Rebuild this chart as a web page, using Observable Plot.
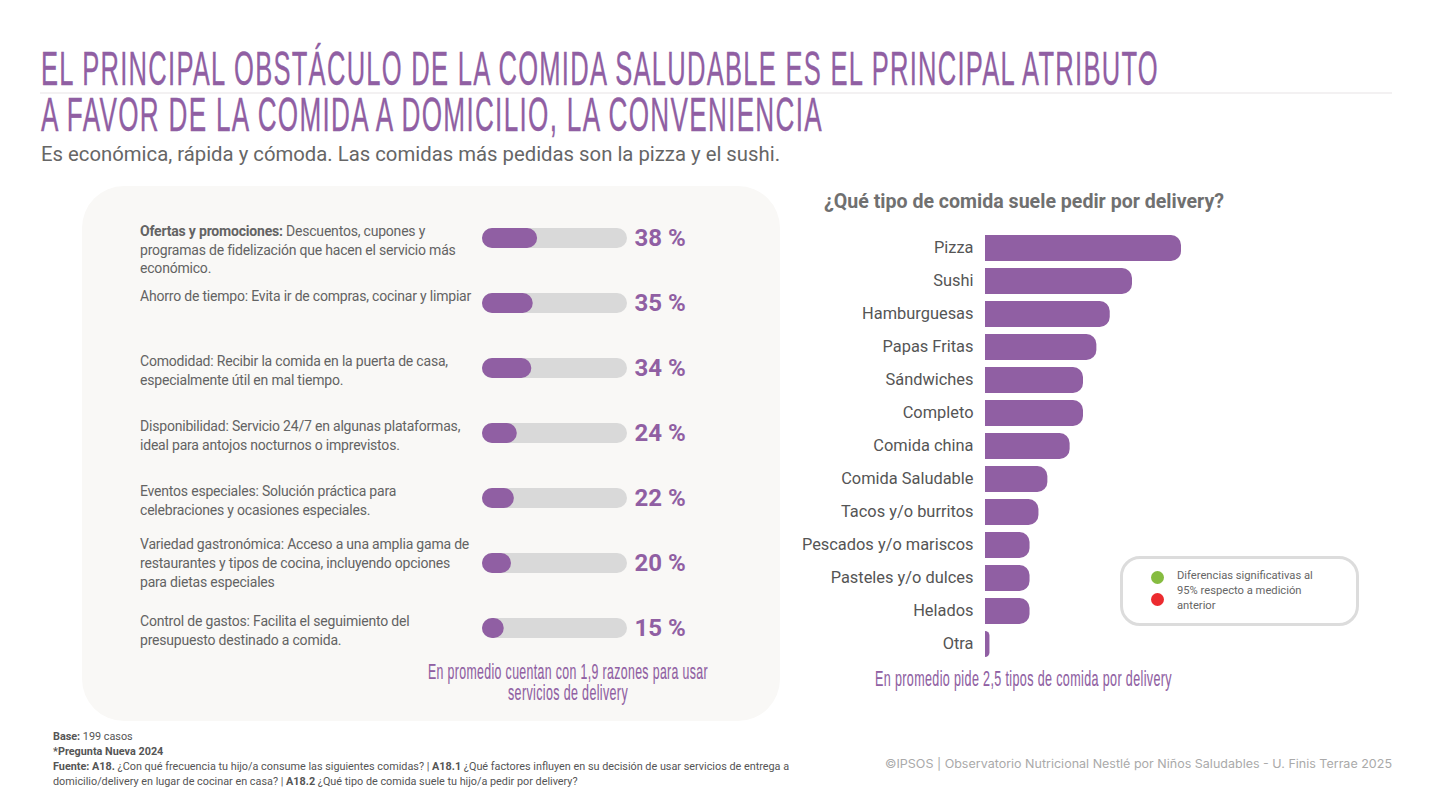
<!DOCTYPE html>
<html lang="es">
<head>
<meta charset="utf-8">
<script src="https://cdn.jsdelivr.net/npm/d3@7"></script>
<script src="https://cdn.jsdelivr.net/npm/@observablehq/plot@0.6"></script>
<style>
html,body{margin:0;padding:0;background:#fff;}
#page{position:relative;width:1440px;height:810px;overflow:hidden;font-family:Roboto,sans-serif;background:#fff;}
#page>div,#page>figure,#page>svg{position:absolute;margin:0;}
.fit{white-space:nowrap;transform-origin:0 50%;}
.display{font-family:"Liberation Sans Narrow","Liberation Sans",sans-serif;color:#905fa3;}
.title{font-size:49px;line-height:48px;letter-spacing:.05em;-webkit-text-stroke:.35px #905fa3;}
.avg{font-size:21.5px;line-height:21px;letter-spacing:.03em;-webkit-text-stroke:.15px #905fa3;}
#panel{left:82px;top:186px;width:698px;height:535px;border-radius:42px;background:#f9f8f6;}
#rule{left:40px;top:92px;width:1352px;height:2px;background:#f3f1f2;}
#subtitle{left:41px;top:142px;font-size:20px;line-height:24px;color:#666;}
#rightTitle{left:824px;top:188px;font-size:20px;line-height:26px;font-weight:700;color:#707070;}
#legend{left:1120px;top:556px;width:233px;height:64px;border:3px solid #dcdcdc;border-radius:20px;background:#fff;}
.dot{width:13px;height:13px;border-radius:50%;}
#legendText{left:1177px;top:568px;font-size:11.2px;line-height:15px;color:#666;white-space:nowrap;}
#foot{left:53px;top:729px;font-size:10.83px;line-height:15px;color:#555;white-space:nowrap;}
#foot b{font-weight:700;}
#credit{left:885px;top:756px;font-family:Inter,sans-serif;font-size:11.5px;line-height:16px;color:#aaa;}
</style>
</head>
<body>
<div id="page">
  <div id="panel"></div>
  <div id="rule"></div>
  <div class="fit display title" data-w="1118" style="left:41px;top:44px">EL PRINCIPAL OBSTÁCULO DE LA COMIDA SALUDABLE ES EL PRINCIPAL ATRIBUTO</div>
  <div class="fit display title" data-w="782" style="left:41px;top:90px">A FAVOR DE LA COMIDA A DOMICILIO, LA CONVENIENCIA</div>
  <div id="subtitle" class="fit" data-w="739">Es económica, rápida y cómoda. Las comidas más pedidas son la pizza y el sushi.</div>
  <div id="rightTitle" class="fit" data-w="400">¿Qué tipo de comida suele pedir por delivery?</div>
  <div id="leftChart"></div>
  <div id="rightChart"></div>
  <div class="fit display avg" data-w="280" style="left:428px;top:662px">En promedio cuentan con 1,9 razones para usar</div>
  <div class="fit display avg" data-w="120" style="left:508px;top:683px">servicios de delivery</div>
  <div class="fit display avg" data-w="297" style="left:875px;top:669px">En promedio pide 2,5 tipos de comida por delivery</div>
  <div id="legend"></div>
  <div class="dot" style="left:1151px;top:571px;background:#86bc40"></div>
  <div class="dot" style="left:1151px;top:593px;background:#ec2b2f"></div>
  <div id="legendText">Diferencias significativas al<br>95% respecto a medición<br>anterior</div>
  <div id="foot"><b>Base:</b> 199 casos<br><b>*Pregunta Nueva 2024</b><br><b>Fuente: A18.</b> ¿Con qué frecuencia tu hijo/a consume las siguientes comidas? | <b>A18.1</b> ¿Qué factores influyen en su decisión de usar servicios de entrega a<br>domicilio/delivery en lugar de cocinar en casa? | <b>A18.2</b> ¿Qué tipo de comida suele tu hijo/a pedir por delivery?</div>
  <div id="credit" class="fit" data-w="507">©IPSOS | Observatorio Nutricional Nestlé por Niños Saludables - U. Finis Terrae 2025</div>
</div>
<script>
// Razones para usar delivery (%)
const reasonNames = ["Ofertas y promociones","Ahorro de tiempo","Comodidad","Disponibilidad","Eventos especiales","Variedad gastronómica","Control de gastos"];
const reasonValues = [38,35,34,24,22,20,15];
const reasonTexts = [
  "Ofertas y promociones: Descuentos, cupones y\nprogramas de fidelización que hacen el servicio más\neconómico.",
  "Ahorro de tiempo: Evita ir de compras, cocinar y limpiar",
  "Comodidad: Recibir la comida en la puerta de casa,\nespecialmente útil en mal tiempo.",
  "Disponibilidad: Servicio 24/7 en algunas plataformas,\nideal para antojos nocturnos o imprevistos.",
  "Eventos especiales: Solución práctica para\ncelebraciones y ocasiones especiales.",
  "Variedad gastronómica: Acceso a una amplia gama de\nrestaurantes y tipos de cocina, incluyendo opciones\npara dietas especiales",
  "Control de gastos: Facilita el seguimiento del\npresupuesto destinado a comida."
];
// Tipos de comida (valores estimados del largo de las barras, %)
const foodNames = ["Pizza","Sushi","Hamburguesas","Papas Fritas","Sándwiches","Completo","Comida china","Comida Saludable","Tacos y/o burritos","Pescados y/o mariscos","Pasteles y/o dulces","Helados","Otra"];
const foodValues = [44,33,28,25,22,22,19,14,12,10,10,10,1];

const purple = "#905fa3";
const reasons = reasonNames.map((name,i)=>({name,value:reasonValues[i],text:reasonTexts[i]}));
const foods = foodNames.map((name,i)=>({name,value:foodValues[i]}));

const left = Plot.plot({
  width:698,height:535,margin:0,
  style:{fontFamily:"Roboto, sans-serif",background:"transparent",overflow:"visible"},
  x:{domain:[0,100],range:[400,545],axis:null},
  y:{domain:reasonNames,range:[18.9,475.6],paddingInner:0.693,paddingOuter:0.3465,axis:null},
  marks:[
    Plot.barX(reasons,{x1:()=>0,x2:()=>100,y:"name",fill:"#d9d9d9",r:10}),
    Plot.barX(reasons,{x1:()=>0,x2:"value",y:"name",fill:purple,r:10}),
    Plot.text(reasons,{x:()=>100,y:"name",text:d=>`${d.value} %`,textAnchor:"start",dx:7,fontSize:24,fontWeight:700,fill:purple}),
    Plot.text(reasons.filter((d,i)=>i!==5),{frameAnchor:"left",dx:57.5,y:"name",text:"text",textAnchor:"start",lineAnchor:"top",dy:-16,lineHeight:1.34,fontSize:14,fill:"#636363"}),
    Plot.text(reasons.filter((d,i)=>i===5),{frameAnchor:"left",dx:57.5,y:"name",text:"text",textAnchor:"start",lineAnchor:"top",dy:-27.5,lineHeight:1.34,fontSize:14,fill:"#636363"})
  ]
});
// Espaciado ajustado de las descripciones y negrita en el rótulo de la primera razón
d3.select(left).selectAll("text").filter(function(){
  return reasonTexts.some(t=>t.split("\n")[0]===(this.firstChild.textContent));
}).attr("letter-spacing","-0.2px");
d3.select(left).selectAll("tspan").each(function(){
  const t=this.textContent, k="Ofertas y promociones:";
  if(t.startsWith(k)){
    this.textContent="";
    d3.select(this).append("tspan").attr("font-weight",700).text(k);
    d3.select(this).append("tspan").text(t.slice(k.length));
  }
});
const lc=document.getElementById("leftChart");
lc.style.cssText="left:82px;top:186px";lc.append(left);

const right = Plot.plot({
  width:660,height:440,marginTop:6.5,marginBottom:4.5,marginLeft:205,marginRight:259,
  style:{fontFamily:"Roboto, sans-serif",background:"transparent",overflow:"visible"},
  x:{domain:[0,44],axis:null},
  y:{domain:foodNames,paddingInner:0.212,paddingOuter:0.106,label:null},
  marks:[
    Plot.axisY({tickSize:0,tickPadding:12,fontSize:16.4,color:"#555",label:null,dy:-0.6}),
    Plot.barX(foods,{x:"value",y:"name",fill:purple,rx2:10})
  ]
});
const rc=document.getElementById("rightChart");
rc.style.cssText="left:780px;top:225px";rc.append(right);

// Ajuste horizontal de los textos a su ancho de diseño
document.querySelectorAll(".fit").forEach(el=>{
  const w=el.getBoundingClientRect().width;
  el.style.transform=`scaleX(${+el.dataset.w/w})`;
});
</script>
</body>
</html>
